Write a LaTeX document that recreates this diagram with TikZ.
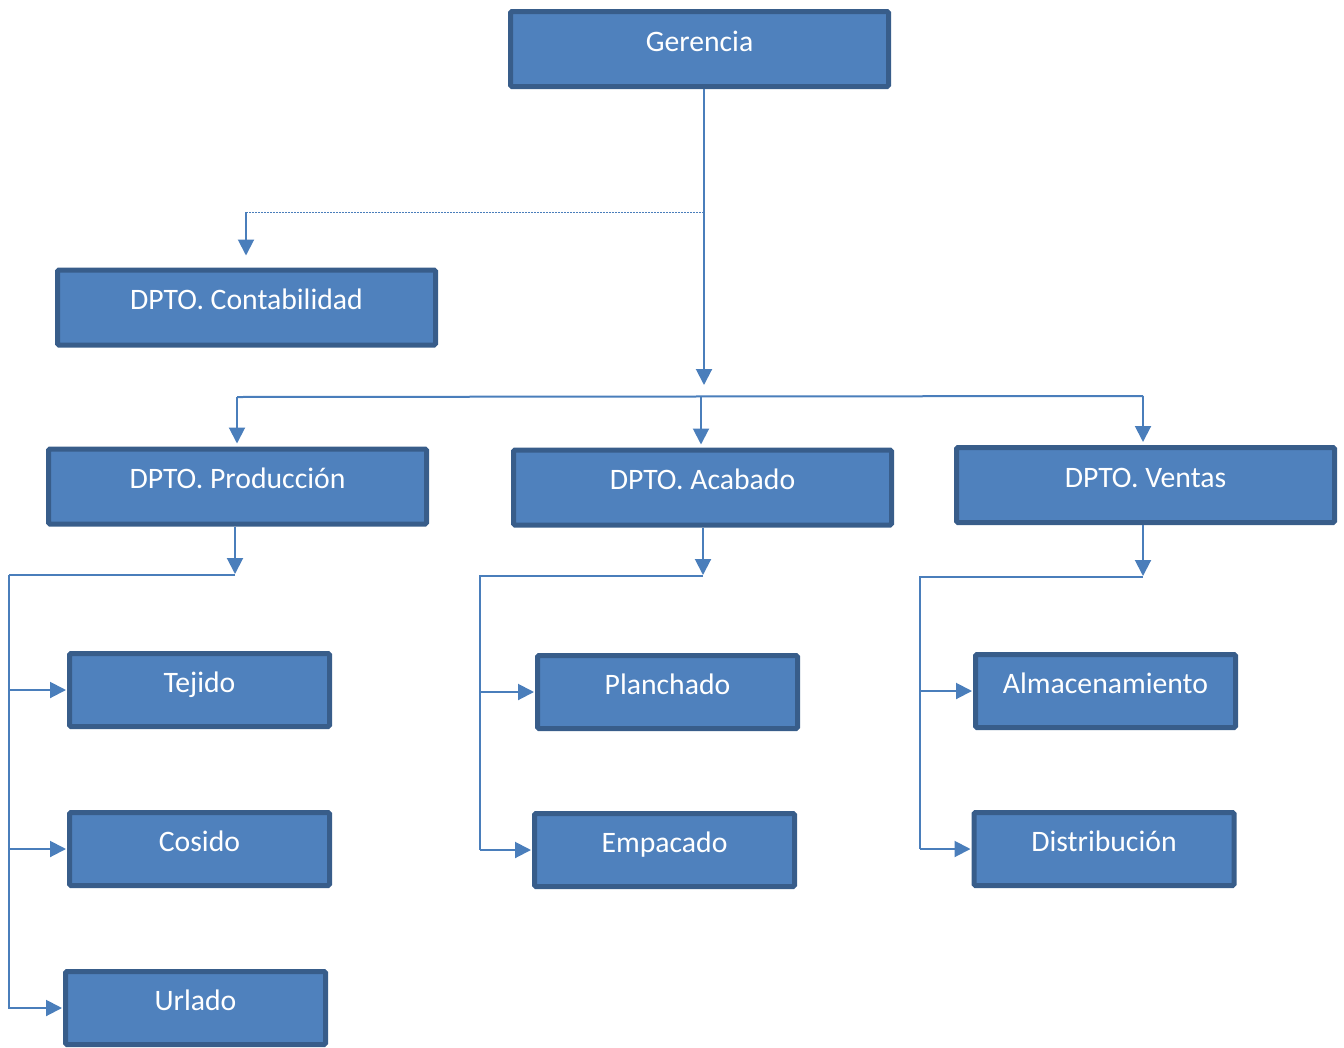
\documentclass[tikz,border=0pt]{standalone}
\usepackage{fontspec}
\setmainfont{Carlito}
\usetikzlibrary{arrows.meta}
\definecolor{boxfill}{HTML}{4F81BD}
\definecolor{boxline}{HTML}{385D8A}
\definecolor{connc}{HTML}{4A7EBB}
\begin{document}
\begin{tikzpicture}[x=1pt,y=-1pt,
 box/.style={draw=boxline, fill=boxfill, line width=5pt, rounded corners=1.5pt, text=white,
   font=\fontsize{29.7}{34}\selectfont, text height=19pt, text depth=15pt, inner sep=0pt},
 bigbox/.style={box, minimum width=378pt, minimum height=75pt},
 smallbox/.style={box, minimum width=260pt, minimum height=73pt},
 conn/.style={draw=connc, line width=2pt},
 arr/.style={conn, -{Triangle[length=16pt,width=16pt]}},
 dotline/.style={draw=connc, line width=1pt, dash pattern=on 2pt off 1pt}]
\useasboundingbox (0,0) rectangle (1344,1047);
% boxes
\node[bigbox] (ger) at (699.5,49) {Gerencia};
\node[bigbox] (cont) at (246.5,307.5) {DPTO. Contabilidad};
\node[bigbox] (prod) at (237.5,486.5) {DPTO. Producción};
\node[bigbox] (acab) at (702.5,487.5) {DPTO. Acabado};
\node[bigbox] (vent) at (1145.5,485) {DPTO. Ventas};
\node[smallbox] (tej) at (199.5,690) {Tejido};
\node[smallbox] (cos) at (199.5,849) {Cosido};
\node[smallbox] (url) at (195.5,1008) {Urlado};
\node[smallbox] (plan) at (667.5,692) {Planchado};
\node[smallbox] (emp) at (664.5,850) {Empacado};
\node[smallbox] (alm) at (1105.5,691) {Almacenamiento};
\node[smallbox] (dis) at (1104,849) {Distribución};
% junction points
\coordinate (gj) at (704,212);
\coordinate (cj) at (246,212);
\coordinate (ga) at (704,385);
\coordinate (bl) at (237,397);
\coordinate (bm) at (701,397);
\coordinate (br) at (1143,396);
\coordinate (pj) at (235,575);
\coordinate (pl) at (9,575);
\coordinate (aj) at (703,576);
\coordinate (al) at (480,576);
\coordinate (vj) at (1143,577);
\coordinate (vl) at (920,577);
% Gerencia connectors
\draw[arr] (ger.south -| ga) -- (ga);
\draw[dotline] (gj) -- (cj);
\draw[arr, shorten >=12pt] (cj) -- (cj |- cont.north);
\draw[conn] (bl) -- (br);
\draw[arr, shorten >=3pt] (bl) -- (bl |- prod.north);
\draw[arr, shorten >=3pt] (bm) -- (bm |- acab.north);
\draw[arr, shorten >=3pt] (br) -- (br |- vent.north);
% Produccion
\draw[arr, shorten >=1pt] (prod.south -| pj) -- (pj);
\draw[conn] (pj) -- (pl);
\draw[arr, shorten >=1pt] (pl) |- (url.west);
\draw[arr, shorten >=1pt] (pl |- tej.west) -- (tej.west);
\draw[arr, shorten >=1pt] (pl |- cos.west) -- (cos.west);
% Acabado
\draw[arr, shorten >=1pt] (acab.south -| aj) -- (aj);
\draw[conn] (aj) -- (al) -- (al |- emp.west);
\draw[arr, shorten >=1pt] (al |- plan.west) -- (plan.west);
\draw[arr, shorten >=1pt] (al |- emp.west) -- (emp.west);
% Ventas
\draw[arr, shorten >=1pt] (vent.south -| vj) -- (vj);
\draw[conn] (vj) -- (vl) -- (vl |- dis.west);
\draw[arr, shorten >=1pt] (vl |- alm.west) -- (alm.west);
\draw[arr, shorten >=1pt] (vl |- dis.west) -- (dis.west);
\end{tikzpicture}
\end{document}
